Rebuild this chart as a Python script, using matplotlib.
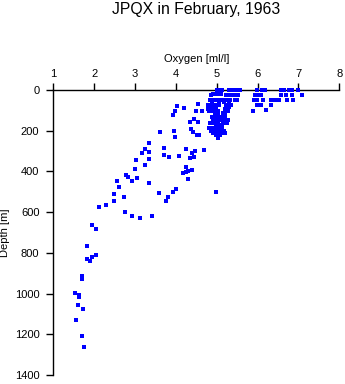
import numpy as np
import matplotlib
matplotlib.use("Agg")
import matplotlib.pyplot as plt

plt.rcParams["font.family"] = ["Liberation Sans", "DejaVu Sans"]

# Oxygen (ml/l) and depth (m) for each bottle sample, surface to deep
surface_oxygen = [5.00, 5.06, 5.13, 5.30, 5.36, 5.43, 5.50, 5.56,
                  5.98, 6.10, 6.17, 6.57, 6.64, 6.76, 6.85, 7.00]
surface_depth = [0] * len(surface_oxygen)

upper_oxygen = [
    4.90, 4.97, 5.04, 5.10,
    4.85, 5.22, 5.28, 5.35, 5.43, 5.52, 5.93, 5.99, 6.09, 6.57, 6.70, 6.84, 7.09,
    4.84, 4.90, 4.96, 5.02, 5.14, 5.20, 5.26, 5.33, 5.44, 5.50,
    5.92, 5.99, 6.14, 6.34, 6.40, 6.48, 6.53, 6.72, 6.87,
    4.88, 5.06, 5.18, 5.30,
    4.79, 4.86, 4.93, 5.00, 5.06, 5.22, 5.28, 5.36, 5.98, 6.09, 6.33,
    4.83, 4.97, 5.30,
    4.78, 4.85, 4.92, 4.98, 5.20, 5.26, 6.21,
    4.82, 4.90, 4.96, 5.04, 5.22, 5.28, 5.89,
    4.96, 5.02, 5.15, 5.21,
    4.98, 5.04,
    4.88, 4.95, 5.00, 5.06, 5.13, 5.20,
    4.92, 4.98, 5.04, 5.13, 5.22, 5.28,
    4.84, 4.90, 4.96, 5.02, 5.15, 5.24,
    4.98, 5.06, 5.14,
    4.80, 4.88, 4.95, 5.05, 5.12,
    4.85, 4.92, 5.00, 5.08, 5.19,
    4.92, 5.04, 5.10, 5.20,
    4.52, 4.98, 5.08,
    5.03,
]
upper_depth = (
    [18] * 4
    + [25] * 13
    + [50] * 19
    + [60] * 4
    + [72] * 11
    + [82] * 3
    + [93] * 6 + [97]
    + [103] * 7
    + [113] * 4
    + [123] * 2
    + [135] * 6
    + [147] * 6
    + [160] * 6
    + [172] * 3
    + [187] * 5
    + [200] * 5
    + [212] * 4
    + [222] * 3
    + [234]
)

mid_oxygen = [
    4.65, 4.68, 4.98,
    2.49, 2.55, 2.62, 2.74, 2.79, 2.82, 2.93, 3.00, 3.06, 3.03, 3.25, 3.16,
    3.25, 3.33, 3.33, 3.35, 3.35, 3.59, 3.81, 3.92, 4.01, 3.62, 3.71, 3.72,
    3.84, 4.08, 3.96, 3.98, 3.94, 3.98, 4.02, 4.21, 4.50, 4.55, 4.34, 4.45,
    4.55, 4.36, 4.43, 4.56, 4.26, 4.39, 4.46, 4.34, 4.45, 4.24, 4.18, 4.24,
    4.30, 4.40, 4.30,
]
mid_depth = [
    102, 296, 502,
    512, 448, 476, 527, 419, 427, 448, 389, 430, 345, 370, 311,
    291, 306, 340, 259, 455, 507, 527, 502, 488, 208, 286, 321,
    329, 326, 203, 232, 121, 105, 77, 90, 103, 69, 157, 142,
    156, 193, 206, 223, 290, 311, 301, 332, 327, 380, 406, 403,
    398, 394, 435,
]

deep_oxygen = [2.13, 2.30, 2.49, 2.76, 2.92, 3.13, 3.42, 3.77, 1.95, 2.05,
               1.83, 1.82, 1.90, 1.94, 2.05, 1.71, 1.71, 1.54, 1.64, 1.63,
               1.60, 1.73, 1.56, 1.71, 1.76]
deep_depth = [576, 566, 544, 600, 619, 630, 620, 543, 663, 681,
              767, 831, 838, 821, 810, 915, 928, 998, 1005, 1018,
              1057, 1077, 1131, 1210, 1263]

oxygen = np.array(surface_oxygen + upper_oxygen + mid_oxygen + deep_oxygen)
depth = np.array(surface_depth + upper_depth + mid_depth + deep_depth)

x_ticks = [1, 2, 3, 4, 5, 6, 7, 8]
y_ticks = [0, 200, 400, 600, 800, 1000, 1200, 1400]

fig = plt.figure(figsize=(3.45, 3.84), dpi=100)
ax = fig.add_axes([0.1545, 0.0234, 0.829, 0.7422])

ax.plot(oxygen, depth, linestyle="none", marker="s", markersize=2.2,
        markeredgewidth=0, color="#0000ff", antialiased=False,
        clip_on=False, zorder=5)

ax.set_xlim(1, 8)
ax.set_ylim(1400, 0)
ax.set_xticks(x_ticks)
ax.set_yticks(y_ticks)

ax.xaxis.tick_top()
ax.xaxis.set_label_position("top")
for side in ("right", "bottom"):
    ax.spines[side].set_visible(False)
for side in ("left", "top"):
    ax.spines[side].set_linewidth(1.0)
ax.tick_params(axis="both", direction="out", length=5, width=1.0,
               labelsize=8, pad=3)
ax.tick_params(axis="y", pad=5)

ax.set_xlabel("Oxygen [ml/l]", fontsize=8, labelpad=5)
ax.set_ylabel("Depth [m]", fontsize=8, labelpad=3)

fig.text(0.568, 0.974, "JPQX in February, 1963", ha="center", va="center",
         fontsize=11.3)

fig.savefig("out.png", dpi=100)
